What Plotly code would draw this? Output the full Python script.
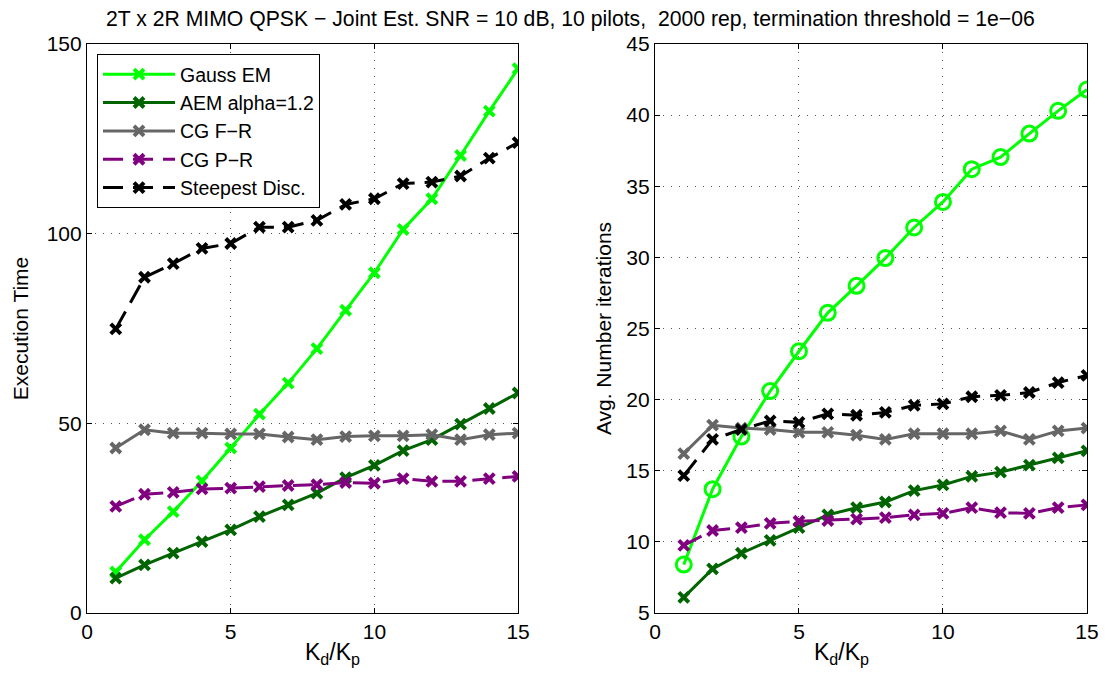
import plotly.graph_objects as go

kd = list(range(1, 16))

# Left: execution time
time_gauss = [10.8, 19.3, 26.7, 34.8, 43.5, 52.4, 60.6, 69.7, 79.8, 89.7, 101.1, 109.2, 120.6, 132.3, 143.5]
time_aem = [9.2, 12.7, 15.8, 18.8, 21.9, 25.4, 28.5, 31.6, 35.7, 38.9, 42.8, 45.7, 49.8, 53.9, 58.0]
time_cgfr = [43.5, 48.3, 47.4, 47.4, 47.2, 47.2, 46.4, 45.7, 46.5, 46.7, 46.7, 47.0, 45.7, 47.0, 47.4]
time_cgpr = [28.1, 31.3, 31.8, 32.7, 32.9, 33.3, 33.6, 33.8, 34.4, 34.2, 35.4, 34.7, 34.7, 35.4, 36.0]
time_sd = [74.9, 88.5, 92.1, 96.1, 97.4, 101.7, 101.7, 103.5, 107.7, 109.2, 113.2, 113.6, 115.2, 119.9, 124.0]

# Right: avg number of iterations
it_gauss = [8.4, 13.7, 17.4, 20.6, 23.4, 26.1, 28.0, 29.95, 32.1, 33.9, 36.2, 37.05, 38.7, 40.3, 41.8]
it_aem = [6.1, 8.1, 9.2, 10.1, 11.0, 11.9, 12.4, 12.8, 13.6, 14.0, 14.6, 14.9, 15.4, 15.9, 16.4]
it_cgfr = [16.2, 18.2, 18.0, 17.9, 17.7, 17.7, 17.5, 17.2, 17.6, 17.6, 17.6, 17.8, 17.2, 17.8, 18.0]
it_cgpr = [9.75, 10.8, 11.0, 11.3, 11.45, 11.5, 11.6, 11.7, 11.9, 12.0, 12.4, 12.05, 12.0, 12.4, 12.6]
it_sd = [14.65, 17.2, 17.9, 18.5, 18.4, 19.0, 18.9, 19.1, 19.6, 19.7, 20.2, 20.3, 20.5, 21.2, 21.7]

names = ["Gauss EM", "AEM alpha=1.2", "CG F\u2212R", "CG P\u2212R", "Steepest Disc."]
colors = ["#00ff00", "#006400", "#666666", "#800080", "#000000"]
dashes = ["solid", "solid", "solid", "20px,10px", "20px,10px"]

FONT = "Liberation Sans, Arial, sans-serif"

fig = go.Figure()
left = [time_gauss, time_aem, time_cgfr, time_cgpr, time_sd]
right = [it_gauss, it_aem, it_cgfr, it_cgpr, it_sd]

for i, (name, c, d) in enumerate(zip(names, colors, dashes)):
    fig.add_trace(go.Scatter(
        x=kd, y=left[i], name=name, mode="lines+markers",
        line=dict(color=c, width=3, dash=d),
        marker=dict(symbol="x-thin", size=10, line=dict(color=c, width=4)),
        xaxis="x", yaxis="y", showlegend=True))

for i, (name, c, d) in enumerate(zip(names, colors, dashes)):
    if i == 0:
        mk = dict(symbol="circle-open", size=15, color=c, line=dict(color=c, width=3))
    else:
        mk = dict(symbol="x-thin", size=10, line=dict(color=c, width=4))
    fig.add_trace(go.Scatter(
        x=kd, y=right[i], name=name, mode="lines+markers",
        line=dict(color=c, width=3, dash=d), marker=mk,
        xaxis="x2", yaxis="y2", showlegend=False))

axis_common = dict(
    showline=True, linecolor="black", linewidth=1.3, mirror="allticks",
    ticks="inside", ticklen=5, tickcolor="black", automargin=False,
    showgrid=True, gridcolor="#555555", griddash="1px,7px", gridwidth=1,
    zeroline=False, tickfont=dict(family=FONT, size=21, color="black"),
)

fig.update_layout(
    width=1106, height=675,
    margin=dict(l=0, r=0, t=0, b=0),
    paper_bgcolor="white", plot_bgcolor="white",
    font=dict(family=FONT, color="black"),
    xaxis=dict(domain=[0.0787, 0.4684], range=[0, 15], dtick=5, anchor="y", **axis_common),
    yaxis=dict(domain=[0.0919, 0.9348], range=[0, 150], dtick=50, anchor="x",
               title=dict(text="Execution Time", font=dict(family=FONT, size=21), standoff=12), **axis_common),
    xaxis2=dict(domain=[0.5922, 0.9828], range=[0, 15], dtick=5, anchor="y2", **axis_common),
    yaxis2=dict(domain=[0.0919, 0.9348], range=[5, 45], dtick=5, anchor="x2",
                title=dict(text="Avg. Number iterations", font=dict(family=FONT, size=21), standoff=8), **axis_common),
    legend=dict(x=0.0877, y=0.92, xanchor="left", yanchor="top",
                bordercolor="black", borderwidth=1, bgcolor="white",
                font=dict(family=FONT, size=19.5), tracegroupgap=0, itemwidth=72),
    annotations=[
        dict(text="2T x 2R MIMO QPSK \u2212 Joint Est. SNR = 10 dB, 10 pilots,  2000 rep, termination threshold = 1e\u221206",
             x=0.516, y=1 - 19 / 675, xref="paper", yref="paper", showarrow=False,
             yanchor="middle", font=dict(family=FONT, size=21.2)),
        dict(text="K<sub>d</sub>/K<sub>p</sub>", x=(87 + 518) / 2 / 1106, y=1 - 670 / 675,
             xref="paper", yref="paper", showarrow=False, yanchor="bottom",
             font=dict(family=FONT, size=23)),
        dict(text="K<sub>d</sub>/K<sub>p</sub>", x=(655 + 1087) / 2 / 1106, y=1 - 670 / 675,
             xref="paper", yref="paper", showarrow=False, yanchor="bottom",
             font=dict(family=FONT, size=23)),
    ],
)

fig.write_html("out.html")
